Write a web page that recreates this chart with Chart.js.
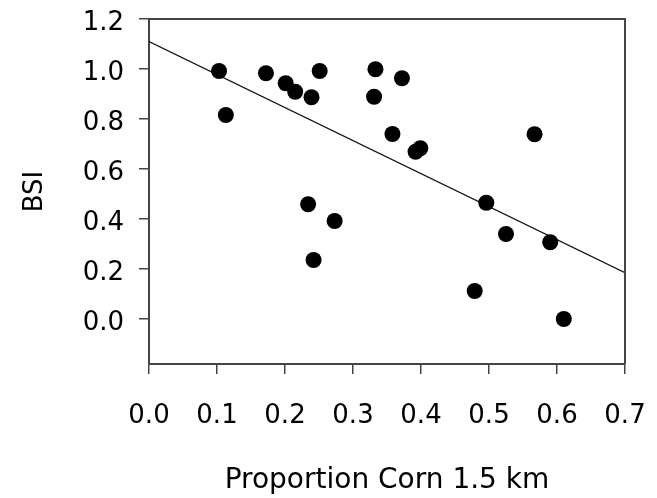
<!DOCTYPE html>
<html>
<head>
<meta charset="utf-8">
<script src="https://cdn.jsdelivr.net/npm/chart.js"></script>
<style>
  html, body { margin: 0; padding: 0; background: #fff; }
  #wrap { width: 657px; height: 498px; position: relative; }
</style>
</head>
<body>
<div id="wrap"><canvas id="chart"></canvas></div>
<script>
// ---------------- DATA ----------------
const cornProportion = [0.103, 0.113, 0.172, 0.201, 0.215, 0.239, 0.251, 0.333, 0.331, 0.372, 0.358,
  0.392, 0.399, 0.567, 0.234, 0.273, 0.242, 0.496, 0.525, 0.590, 0.479, 0.610];
const bsiValues = [0.992, 0.816, 0.983, 0.943, 0.909, 0.887, 0.992, 0.999, 0.889, 0.963, 0.740,
  0.669, 0.683, 0.739, 0.459, 0.392, 0.236, 0.465, 0.340, 0.307, 0.112, 0.000];

const fitX = [0, 0.7];
const fitY = [1.11, 0.185];

const xTicks = [0, 0.1, 0.2, 0.3, 0.4, 0.5, 0.6, 0.7];
const yTicks = [0, 0.2, 0.4, 0.6, 0.8, 1.0, 1.2];

const axisColor = "#444";
const textColor = "#000";
const fontFamily = "'DejaVu Sans', sans-serif";

// ---------------- FRAME (top + right edges) ----------------
const framePlugin = {
  id: "frame",
  afterDatasetsDraw(chart) {
    const { ctx, chartArea } = chart;
    ctx.save();
    ctx.strokeStyle = axisColor;
    ctx.lineWidth = 2;
    ctx.beginPath();
    ctx.moveTo(chartArea.left, chartArea.top);
    ctx.lineTo(chartArea.right, chartArea.top);
    ctx.lineTo(chartArea.right, chartArea.bottom);
    ctx.stroke();
    ctx.restore();
  }
};

// ---------------- CHART ----------------
new Chart(document.getElementById("chart"), {
  data: {
    datasets: [
      {
        type: "scatter",
        data: cornProportion.map((x, i) => ({ x, y: bsiValues[i] })),
        pointRadius: 8,
        pointBackgroundColor: "#000",
        pointBorderWidth: 0,
      },
      {
        type: "line",
        data: fitX.map((x, i) => ({ x, y: fitY[i] })),
        borderColor: "#111",
        borderWidth: 1.3,
        pointRadius: 0,
        fill: false,
      },
    ],
  },
  options: {
    responsive: true,
    maintainAspectRatio: false,
    animation: false,
    devicePixelRatio: 1,
    layout: { padding: { top: 19, right: 32, left: 0, bottom: 0 } },
    plugins: { legend: { display: false }, tooltip: { enabled: false } },
    scales: {
      x: {
        type: "linear",
        min: 0,
        max: 0.7,
        afterBuildTicks: (scale) => { scale.ticks = xTicks.map(v => ({ value: v })); },
        afterFit: (scale) => {
          scale.height = 134;
          scale.paddingLeft = 0;
          scale.paddingRight = 0;
        },
        border: { color: axisColor, width: 2 },
        grid: { drawOnChartArea: false, drawTicks: true, tickLength: 10, color: axisColor, lineWidth: 1.5 },
        ticks: {
          padding: 27,
          color: textColor,
          font: { family: fontFamily, size: 26 },
          callback: (v) => Number(v).toFixed(1),
        },
        title: {
          display: true,
          text: "Proportion Corn 1.5 km",
          color: textColor,
          font: { family: fontFamily, size: 28 },
          padding: { top: 0, bottom: 0 },
        },
      },
      y: {
        type: "linear",
        min: -0.18,
        max: 1.2,
        afterBuildTicks: (scale) => { scale.ticks = yTicks.map(v => ({ value: v })); },
        afterFit: (scale) => {
          scale.width = 149;
          scale.paddingTop = 0;
          scale.paddingBottom = 0;
        },
        border: { color: axisColor, width: 2 },
        grid: { drawOnChartArea: false, drawTicks: true, tickLength: 10, color: axisColor, lineWidth: 1.5 },
        ticks: {
          padding: 15,
          labelOffset: 4,
          color: textColor,
          font: { family: fontFamily, size: 26 },
          callback: (v) => Number(v).toFixed(1),
        },
        title: {
          display: true,
          text: "BSI",
          color: textColor,
          font: { family: fontFamily, size: 26 },
          padding: { top: 20, bottom: 0 },
        },
      },
    },
  },
  plugins: [framePlugin],
});
</script>
</body>
</html>
